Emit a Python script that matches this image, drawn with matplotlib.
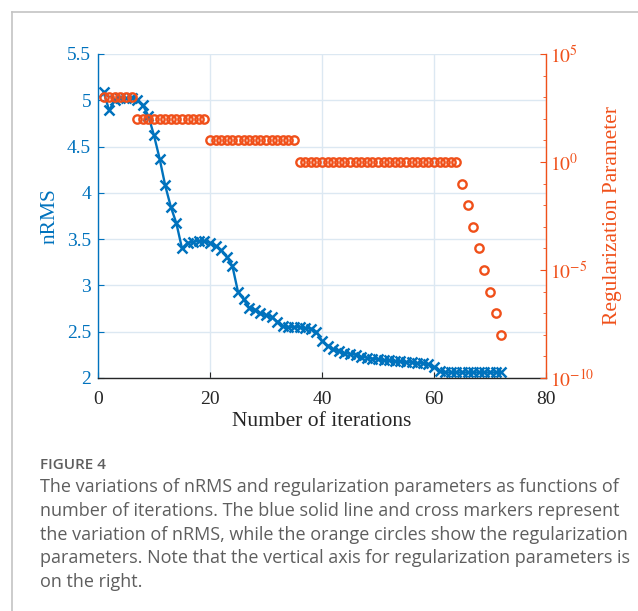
import matplotlib
matplotlib.use("Agg")
import matplotlib.pyplot as plt
from matplotlib.lines import Line2D
from matplotlib.ticker import FixedLocator, NullFormatter

BLUE = "#0072BD"
ORANGE = "#F0501A"
GRID = "#DCE8F2"
CAPTION = "#5E5E5E"

# nRMS per iteration
iterations = list(range(1, 73))
nrms = [
    5.09, 4.89, 5.00, 5.02, 5.02, 5.02, 5.00, 4.95, 4.83, 4.62,
    4.37, 4.08, 3.85, 3.67, 3.40, 3.46, 3.47, 3.48, 3.48, 3.46,
    3.43, 3.38, 3.31, 3.21, 2.93, 2.85, 2.76, 2.73, 2.70, 2.68,
    2.66, 2.61, 2.56, 2.55, 2.55, 2.55, 2.54, 2.53, 2.50, 2.40,
    2.35, 2.31, 2.29, 2.27, 2.26, 2.25, 2.23, 2.22, 2.21, 2.20,
    2.19, 2.19, 2.18, 2.18, 2.17, 2.17, 2.16, 2.16, 2.15, 2.12,
    2.08, 2.06, 2.06, 2.06, 2.06, 2.06, 2.06, 2.06, 2.06, 2.06,
    2.06, 2.06,
]

# regularization parameter per iteration
reg_param = (
    [1e3] * 6 + [1e2] * 13 + [1e1] * 16 + [1e0] * 29
    + [1e-1, 1e-2, 1e-3, 1e-4, 1e-5, 1e-6, 1e-7, 1e-8]
)

x_ticks = [0, 20, 40, 60, 80]
nrms_ticks = [2, 2.5, 3, 3.5, 4, 4.5, 5, 5.5]
nrms_ticklabels = ["2", "2.5", "3", "3.5", "4", "4.5", "5", "5.5"]
reg_ticks = [1e-10, 1e-5, 1e0, 1e5]
reg_ticklabels = [r"$10^{-10}$", r"$10^{-5}$", r"$10^{0}$", r"$10^{5}$"]

caption_title = "FIGURE 4"
caption_lines = [
    "The variations of nRMS and regularization parameters as functions of",
    "number of iterations. The blue solid line and cross markers represent",
    "the variation of nRMS, while the orange circles show the regularization",
    "parameters. Note that the vertical axis for regularization parameters is",
    "on the right.",
]

plt.rcParams["font.family"] = ["Liberation Serif", "DejaVu Serif"]
plt.rcParams["mathtext.fontset"] = "stix"

fig = plt.figure(figsize=(6.38, 6.11), dpi=100)
fig.patch.set_facecolor("white")

# page frame around the figure block
fig.add_artist(Line2D([12 / 638, 12 / 638], [0, 1 - 12 / 611],
                      color="#C4C4C4", lw=1.2, transform=fig.transFigure))
fig.add_artist(Line2D([12 / 638, 1.0], [1 - 12 / 611, 1 - 12 / 611],
                      color="#C4C4C4", lw=1.2, transform=fig.transFigure))

ax = fig.add_axes([98 / 638, 1 - 378 / 611, 448 / 638, 324 / 611])
ax2 = ax.twinx()

ax.plot(iterations, nrms, color=BLUE, lw=1.7, marker="x",
        markersize=7.5, markeredgewidth=1.8)
ax2.plot(iterations, reg_param, linestyle="none", marker="o",
         markersize=6, markerfacecolor="none", markeredgecolor=ORANGE,
         markeredgewidth=1.7)

ax.set_xlim(0, 80)
ax.set_ylim(2, 5.5)
ax.set_xticks(x_ticks)
ax.set_yticks(nrms_ticks)
ax.set_yticklabels(nrms_ticklabels)
ax.grid(True, color=GRID, lw=1.0)
ax.set_axisbelow(True)

ax2.set_yscale("log")
ax2.set_ylim(1e-10, 1e5)
ax2.yaxis.set_major_locator(FixedLocator(reg_ticks))
ax2.set_yticklabels(reg_ticklabels)
ax2.yaxis.set_minor_locator(FixedLocator([10.0 ** k for k in range(-10, 6)]))
ax2.yaxis.set_minor_formatter(NullFormatter())

for a in (ax, ax2):
    a.spines["top"].set_visible(False)
ax.spines["right"].set_visible(False)
ax2.spines["left"].set_visible(False)
ax2.spines["bottom"].set_visible(False)
ax.spines["left"].set_color(BLUE)
ax.spines["bottom"].set_color("#262626")
ax2.spines["right"].set_color(ORANGE)
for s in ("left", "bottom"):
    ax.spines[s].set_linewidth(1.0)
ax2.spines["right"].set_linewidth(1.0)

ax.tick_params(axis="x", direction="in", length=4, colors="#262626",
               labelsize=14, pad=9)
ax.tick_params(axis="y", direction="in", length=4, colors=BLUE,
               labelsize=14, pad=5)
ax2.tick_params(axis="y", which="both", direction="in", colors=ORANGE,
                labelsize=14, pad=3)
ax2.tick_params(axis="y", which="major", length=4)
ax2.tick_params(axis="y", which="minor", length=2.5)

ax.set_xlabel("Number of iterations", fontsize=15.5, color="#262626", labelpad=3)
ax.set_ylabel("nRMS", fontsize=15.5, color=BLUE, labelpad=5)
ax2.set_ylabel("Regularization Parameter", fontsize=15.5, color=ORANGE, labelpad=6)

# caption block below the chart
fig.text(40 / 638, 1 - 465 / 611, caption_title, fontsize=11,
         family="Open Sans", color=CAPTION, va="center", weight="semibold")
for i, line in enumerate(caption_lines):
    fig.text(40 / 638, 1 - (487 + 23.8 * i) / 611, line, fontsize=13,
             family="Open Sans", color=CAPTION, va="center")

fig.savefig("out.png", dpi=100, facecolor="white")
